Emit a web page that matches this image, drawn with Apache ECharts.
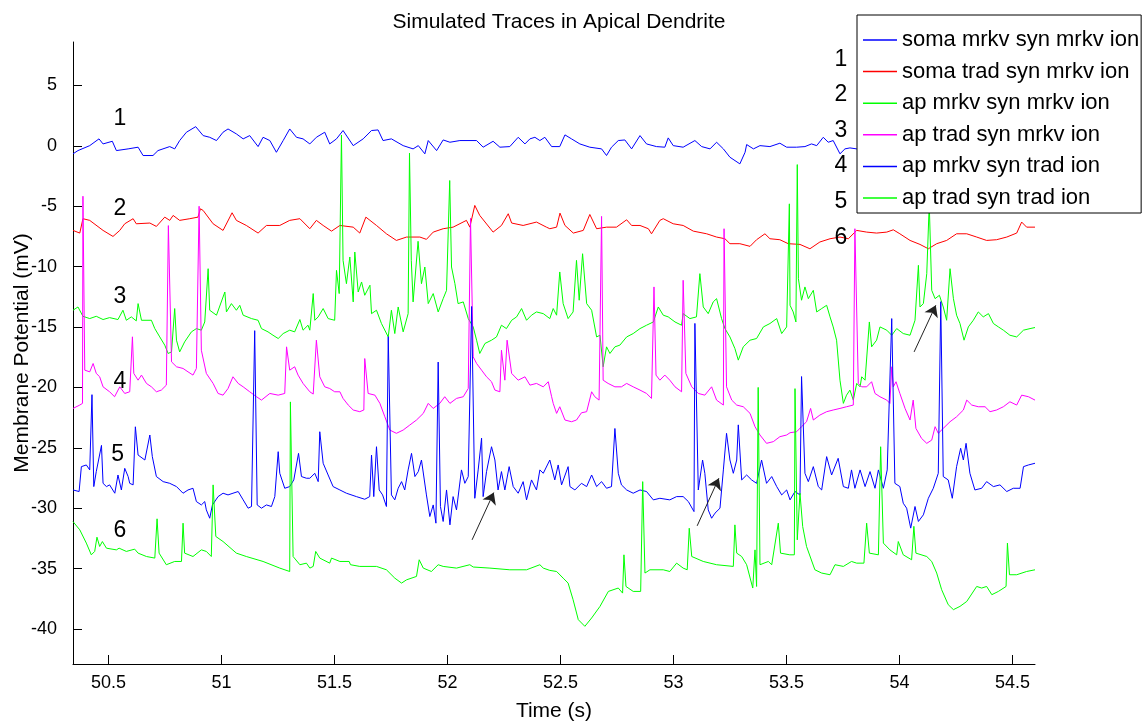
<!DOCTYPE html>
<html><head><meta charset="utf-8">
<script src="https://cdn.jsdelivr.net/npm/echarts@6/dist/echarts.min.js"></script>
<style>html,body{margin:0;padding:0;background:#fff}#c{width:1148px;height:725px}</style>
</head><body><div id="c"></div>
<script>
const seriesNames = ['soma mrkv syn mrkv ion','soma trad syn mrkv ion','ap mrkv syn mrkv ion','ap trad syn mrkv ion','ap mrkv syn trad ion','ap trad syn trad ion'];
const seriesColors = ['#0000ff','#ff0000','#00ff00','#ff00ff','#0000ff','#00ff00'];

const somaMrkvSynMrkvIon = [[50.343,-0.66],[50.365,-0.39],[50.417,0.02],[50.458,0.58],[50.476,0.16],[50.517,0.38],[50.535,-0.39],[50.587,-0.25],[50.631,-0.11],[50.653,-0.80],[50.697,-0.80],[50.719,-0.39],[50.771,-0.06],[50.793,-0.25],[50.815,0.44],[50.845,1.13],[50.886,1.59],[50.919,0.85],[50.948,0.71],[50.978,0.44],[51.007,1.13],[51.029,1.40],[51.066,0.99],[51.096,0.58],[51.125,0.85],[51.162,-0.06],[51.184,0.71],[51.214,0.44],[51.243,-0.53],[51.273,0.44],[51.302,1.40],[51.332,0.71],[51.361,0.58],[51.391,0.16],[51.420,0.71],[51.457,1.13],[51.479,0.16],[51.509,0.58],[51.538,1.27],[51.583,0.02],[51.627,0.58],[51.664,1.27],[51.693,1.32],[51.715,0.44],[51.752,0.58],[51.804,0.02],[51.848,-0.25],[51.871,0.02],[51.900,-0.66],[51.915,0.44],[51.952,-0.39],[51.981,0.49],[52.011,0.30],[52.055,0.44],[52.129,0.44],[52.158,-0.11],[52.202,0.38],[52.232,-0.11],[52.276,-0.06],[52.313,0.71],[52.343,0.16],[52.365,0.58],[52.387,0.71],[52.409,0.44],[52.431,0.71],[52.461,-0.06],[52.497,-0.06],[52.520,0.91],[52.549,0.58],[52.586,0.16],[52.630,-0.11],[52.682,-0.25],[52.704,-0.80],[52.726,-0.11],[52.756,0.44],[52.785,0.49],[52.815,-0.25],[52.852,0.85],[52.881,0.16],[52.925,-0.06],[52.962,-0.11],[52.977,0.66],[52.999,0.02],[53.043,-0.11],[53.095,0.44],[53.125,-0.06],[53.162,-0.25],[53.191,0.30],[53.221,-0.25],[53.250,-0.94],[53.294,-1.49],[53.317,-0.53],[53.324,0.11],[53.354,-0.25],[53.383,0.02],[53.427,-0.06],[53.471,0.22],[53.501,-0.11],[53.545,-0.11],[53.582,-0.06],[53.611,0.16],[53.634,0.02],[53.663,0.71],[53.685,0.30],[53.707,0.44],[53.737,-0.66],[53.759,-0.25],[53.781,-0.17],[53.811,-0.25],[53.840,-0.10]];

const somaTradSynMrkvIon = [[50.343,-7.00],[50.373,-7.22],[50.387,-6.03],[50.417,-6.17],[50.476,-7.00],[50.520,-7.50],[50.550,-7.00],[50.572,-6.45],[50.609,-6.03],[50.623,-6.45],[50.683,-6.39],[50.712,-6.67],[50.749,-5.90],[50.771,-6.17],[50.786,-5.76],[50.815,-6.17],[50.860,-6.03],[50.896,-5.90],[50.907,-5.21],[50.919,-5.35],[50.963,-6.45],[51.007,-7.00],[51.047,-5.54],[51.066,-6.17],[51.110,-6.59],[51.162,-7.22],[51.199,-6.59],[51.258,-6.59],[51.302,-6.17],[51.347,-6.03],[51.391,-6.86],[51.420,-6.17],[51.450,-6.59],[51.487,-7.06],[51.524,-6.59],[51.583,-6.73],[51.612,-7.22],[51.639,-5.90],[51.686,-6.59],[51.730,-7.28],[51.774,-7.83],[51.819,-7.55],[51.878,-7.55],[51.907,-7.74],[51.937,-7.14],[51.981,-6.86],[52.025,-6.73],[52.084,-6.17],[52.099,-6.73],[52.121,-4.93],[52.143,-5.76],[52.202,-7.14],[52.239,-6.59],[52.269,-5.62],[52.284,-6.39],[52.335,-6.59],[52.394,-6.31],[52.438,-6.73],[52.453,-6.86],[52.483,-6.73],[52.498,-5.57],[52.520,-6.59],[52.557,-7.22],[52.601,-7.00],[52.630,-5.68],[52.660,-6.86],[52.704,-6.73],[52.748,-6.73],[52.793,-6.12],[52.815,-6.59],[52.852,-6.59],[52.889,-6.86],[52.903,-7.28],[52.940,-6.17],[52.955,-6.03],[52.999,-6.45],[53.043,-6.59],[53.088,-7.06],[53.147,-7.28],[53.191,-7.55],[53.228,-7.69],[53.250,-8.10],[53.294,-8.10],[53.339,-8.32],[53.368,-7.77],[53.405,-7.28],[53.427,-7.69],[53.471,-7.77],[53.508,-8.10],[53.516,-7.96],[53.560,-8.16],[53.604,-8.52],[53.648,-7.96],[53.693,-7.69],[53.737,-7.55],[53.774,-7.69],[53.811,-7.00],[53.855,-7.14],[53.899,-7.22],[53.944,-7.14],[53.973,-6.95],[54.002,-7.28],[54.047,-7.83],[54.091,-8.16],[54.128,-8.52],[54.165,-8.10],[54.209,-7.83],[54.253,-7.28],[54.298,-7.28],[54.342,-7.55],[54.386,-7.83],[54.430,-7.77],[54.475,-7.55],[54.519,-7.22],[54.541,-6.31],[54.563,-6.73],[54.600,-6.73]];

const apMrkvSynMrkvIon = [[50.343,-13.61],[50.365,-13.34],[50.387,-14.11],[50.417,-14.30],[50.446,-14.11],[50.476,-14.38],[50.505,-14.22],[50.542,-14.38],[50.564,-13.61],[50.579,-14.44],[50.601,-14.16],[50.623,-14.49],[50.631,-13.06],[50.646,-14.44],[50.690,-14.44],[50.705,-15.13],[50.727,-15.82],[50.749,-16.50],[50.764,-17.19],[50.779,-17.06],[50.793,-13.47],[50.801,-16.09],[50.815,-17.06],[50.837,-16.23],[50.867,-15.40],[50.889,-15.13],[50.911,-15.26],[50.926,-14.58],[50.941,-10.17],[50.948,-13.61],[50.978,-14.02],[51.015,-12.10],[51.022,-13.75],[51.044,-13.06],[51.066,-13.61],[51.081,-13.20],[51.096,-14.02],[51.133,-14.30],[51.162,-14.44],[51.177,-15.13],[51.206,-15.40],[51.228,-15.68],[51.251,-15.95],[51.273,-15.54],[51.302,-15.26],[51.324,-15.40],[51.347,-14.38],[51.361,-15.26],[51.383,-14.85],[51.391,-15.26],[51.406,-12.23],[51.413,-14.44],[51.428,-14.16],[51.450,-13.47],[51.472,-14.30],[51.501,-14.44],[51.509,-10.31],[51.521,-12.23],[51.531,0.90],[51.538,-9.48],[51.553,-11.41],[51.568,-9.20],[51.583,-12.92],[51.590,-8.79],[51.605,-12.10],[51.620,-11.27],[51.634,-12.37],[51.657,-11.54],[51.664,-13.89],[51.686,-13.61],[51.708,-14.71],[51.738,-15.82],[51.752,-13.61],[51.767,-15.54],[51.782,-13.34],[51.804,-15.40],[51.826,-13.89],[51.832,-0.60],[51.840,-9.48],[51.848,-12.92],[51.870,-7.90],[51.885,-11.41],[51.900,-10.03],[51.915,-13.06],[51.937,-12.23],[51.959,-13.75],[51.981,-12.65],[51.996,-11.96],[52.010,-2.87],[52.018,-10.03],[52.033,-11.41],[52.047,-13.06],[52.070,-12.92],[52.092,-14.30],[52.114,-14.99],[52.129,-16.09],[52.143,-17.19],[52.166,-16.36],[52.195,-16.09],[52.217,-15.82],[52.239,-14.85],[52.261,-15.13],[52.284,-14.44],[52.306,-14.16],[52.328,-13.47],[52.350,-14.44],[52.372,-14.02],[52.394,-13.75],[52.424,-13.89],[52.453,-14.30],[52.468,-13.47],[52.483,-14.02],[52.497,-10.44],[52.512,-13.06],[52.534,-14.30],[52.556,-13.75],[52.571,-9.48],[52.583,-12.78],[52.598,-8.93],[52.616,-13.06],[52.638,-13.61],[52.660,-15.82],[52.675,-15.68],[52.689,-18.29],[52.704,-16.64],[52.719,-17.19],[52.741,-16.64],[52.763,-16.50],[52.793,-15.82],[52.822,-15.54],[52.852,-15.13],[52.881,-14.85],[52.911,-14.58],[52.933,-13.34],[52.955,-14.02],[52.977,-14.16],[53.007,-14.58],[53.036,-14.85],[53.043,-13.89],[53.073,-14.30],[53.102,-14.16],[53.117,-10.58],[53.132,-13.34],[53.154,-13.89],[53.176,-12.92],[53.191,-12.65],[53.213,-14.30],[53.228,-15.13],[53.250,-15.82],[53.272,-16.78],[53.287,-17.74],[53.309,-16.64],[53.339,-16.09],[53.368,-15.95],[53.398,-14.99],[53.427,-14.71],[53.457,-14.30],[53.479,-15.54],[53.501,-14.99],[53.513,-4.80],[53.516,-13.20],[53.530,-13.75],[53.542,-14.58],[53.548,-1.55],[53.553,-10.99],[53.567,-12.78],[53.582,-11.68],[53.597,-12.65],[53.619,-11.96],[53.634,-13.75],[53.656,-13.47],[53.678,-13.20],[53.693,-14.16],[53.707,-14.99],[53.722,-16.09],[53.737,-19.40],[53.752,-21.32],[53.766,-20.64],[53.781,-20.22],[53.796,-21.05],[53.811,-19.67],[53.826,-19.95],[53.833,-19.12],[53.848,-19.40],[53.867,-14.58],[53.877,-16.64],[53.899,-16.09],[53.914,-14.99],[53.944,-15.26],[53.966,-15.68],[53.988,-15.13],[54.017,-15.54],[54.047,-15.68],[54.069,-14.44],[54.084,-9.89],[54.091,-13.34],[54.106,-13.06],[54.121,-10.58],[54.132,-4.80],[54.143,-11.96],[54.158,-12.65],[54.177,-12.37],[54.194,-13.34],[54.209,-14.44],[54.224,-10.17],[54.239,-12.65],[54.253,-14.02],[54.268,-14.71],[54.286,-16.09],[54.305,-14.99],[54.327,-14.44],[54.349,-13.75],[54.371,-14.16],[54.394,-13.89],[54.416,-14.71],[54.438,-14.99],[54.460,-15.26],[54.489,-15.68],[54.519,-15.82],[54.549,-15.26],[54.578,-15.13],[54.600,-15.04]];

const apTradSynMrkvIon = [[50.343,-21.74],[50.373,-21.46],[50.385,-21.32],[50.387,-4.17],[50.395,-18.57],[50.417,-18.71],[50.432,-18.02],[50.446,-18.84],[50.461,-19.12],[50.476,-19.95],[50.505,-20.36],[50.527,-20.77],[50.550,-19.95],[50.572,-20.50],[50.594,-20.36],[50.606,-15.81],[50.612,-18.84],[50.631,-19.40],[50.646,-18.98],[50.668,-19.67],[50.690,-19.95],[50.712,-20.36],[50.734,-20.22],[50.756,-19.81],[50.765,-6.60],[50.779,-17.88],[50.801,-18.29],[50.830,-18.43],[50.852,-18.71],[50.874,-18.98],[50.889,-18.43],[50.901,-5.00],[50.911,-16.92],[50.933,-18.84],[50.963,-19.67],[50.985,-20.50],[51.007,-20.64],[51.029,-20.09],[51.051,-19.12],[51.074,-19.67],[51.096,-19.95],[51.125,-20.36],[51.155,-20.77],[51.177,-21.05],[51.214,-20.50],[51.251,-20.64],[51.280,-20.50],[51.288,-16.64],[51.302,-18.57],[51.324,-18.29],[51.339,-18.98],[51.361,-19.67],[51.391,-20.36],[51.406,-20.55],[51.420,-16.09],[51.435,-19.12],[51.457,-19.95],[51.479,-20.09],[51.501,-20.36],[51.524,-20.36],[51.538,-20.91],[51.561,-21.46],[51.583,-21.87],[51.612,-22.01],[51.630,-21.87],[51.634,-17.61],[51.649,-20.50],[51.679,-20.64],[51.701,-21.32],[51.723,-22.43],[51.745,-23.53],[51.774,-23.80],[51.804,-23.53],[51.833,-23.12],[51.863,-22.70],[51.893,-22.15],[51.915,-21.32],[51.937,-21.74],[51.966,-21.32],[51.988,-20.77],[52.011,-21.32],[52.040,-20.91],[52.070,-20.77],[52.092,-20.09],[52.102,-6.00],[52.114,-17.47],[52.129,-18.02],[52.151,-18.57],[52.173,-19.12],[52.195,-19.53],[52.210,-20.22],[52.232,-20.36],[52.239,-16.92],[52.254,-19.40],[52.264,-16.09],[52.284,-18.84],[52.313,-19.40],[52.343,-19.12],[52.365,-19.81],[52.394,-19.67],[52.424,-19.95],[52.446,-19.53],[52.461,-20.77],[52.468,-21.32],[52.483,-22.15],[52.497,-21.60],[52.520,-22.70],[52.549,-22.84],[52.571,-22.70],[52.593,-22.10],[52.616,-22.01],[52.638,-20.36],[52.652,-20.77],[52.671,-21.05],[52.682,-5.84],[52.689,-19.40],[52.711,-19.67],[52.741,-19.95],[52.770,-19.95],[52.793,-19.67],[52.822,-19.95],[52.852,-20.22],[52.881,-20.50],[52.903,-20.91],[52.914,-11.68],[52.923,-18.98],[52.940,-19.40],[52.962,-18.98],[52.984,-19.40],[53.007,-19.95],[53.036,-20.36],[53.043,-11.13],[53.055,-18.84],[53.081,-19.95],[53.110,-20.50],[53.139,-20.64],[53.169,-19.95],[53.191,-21.05],[53.221,-21.46],[53.224,-6.86],[53.235,-19.95],[53.258,-21.05],[53.280,-21.46],[53.309,-21.60],[53.339,-22.15],[53.361,-23.25],[53.383,-23.94],[53.412,-24.63],[53.442,-24.49],[53.471,-24.08],[53.501,-23.94],[53.516,-23.75],[53.545,-23.67],[53.567,-23.25],[53.589,-22.84],[53.607,-21.74],[53.619,-22.70],[53.648,-22.29],[53.678,-22.01],[53.707,-21.87],[53.737,-21.74],[53.766,-21.60],[53.796,-21.46],[53.803,-6.86],[53.818,-19.67],[53.833,-19.95],[53.855,-19.95],[53.877,-19.53],[53.892,-20.50],[53.914,-20.77],[53.944,-21.05],[53.958,-21.32],[53.966,-18.29],[53.973,-19.95],[53.985,-19.53],[54.002,-20.50],[54.025,-21.74],[54.047,-22.70],[54.061,-21.05],[54.073,-23.39],[54.098,-24.22],[54.121,-24.63],[54.143,-24.36],[54.158,-23.25],[54.172,-23.80],[54.194,-23.39],[54.224,-22.84],[54.253,-22.43],[54.283,-21.87],[54.298,-21.05],[54.320,-21.46],[54.349,-21.60],[54.379,-21.60],[54.401,-22.01],[54.430,-21.87],[54.460,-21.60],[54.489,-21.19],[54.519,-21.46],[54.541,-20.64],[54.571,-20.77],[54.600,-21.05]];

const apMrkvSynTradIon = [[50.343,-28.49],[50.370,-28.62],[50.380,-26.56],[50.402,-26.42],[50.417,-26.83],[50.427,-20.60],[50.435,-28.21],[50.446,-26.97],[50.469,-24.80],[50.476,-27.94],[50.491,-28.21],[50.505,-28.07],[50.528,-28.76],[50.542,-27.25],[50.557,-28.49],[50.572,-26.70],[50.587,-27.38],[50.594,-27.94],[50.609,-28.07],[50.619,-23.26],[50.631,-25.60],[50.661,-26.01],[50.683,-23.94],[50.694,-25.73],[50.712,-27.38],[50.742,-27.80],[50.771,-27.94],[50.801,-28.21],[50.830,-28.76],[50.852,-28.49],[50.874,-28.35],[50.889,-29.45],[50.911,-29.73],[50.926,-29.45],[50.933,-30.14],[50.948,-30.83],[50.960,-29.73],[50.985,-29.04],[51.007,-28.76],[51.029,-28.90],[51.051,-28.76],[51.074,-28.62],[51.096,-29.31],[51.118,-30.00],[51.133,-29.86],[51.147,-15.30],[51.158,-29.73],[51.177,-30.00],[51.199,-29.73],[51.221,-29.86],[51.236,-29.04],[51.251,-25.32],[51.258,-27.11],[51.280,-28.35],[51.302,-28.21],[51.320,-27.66],[51.341,-25.46],[51.354,-27.38],[51.376,-27.52],[51.391,-27.52],[51.413,-27.11],[51.428,-27.80],[51.435,-23.67],[51.450,-26.28],[51.472,-27.25],[51.494,-28.21],[51.524,-28.49],[51.553,-28.76],[51.597,-29.04],[51.634,-29.26],[51.656,-29.04],[51.664,-25.60],[51.674,-29.04],[51.686,-24.91],[51.698,-28.49],[51.713,-28.90],[51.730,-29.86],[51.738,-15.80],[51.752,-28.90],[51.767,-29.31],[51.782,-28.35],[51.797,-27.80],[51.811,-28.49],[51.826,-26.83],[51.841,-25.46],[51.856,-27.38],[51.871,-26.97],[51.885,-26.01],[51.907,-28.90],[51.922,-30.69],[51.937,-29.73],[51.949,-31.24],[51.959,-17.90],[51.969,-29.86],[51.981,-31.10],[51.996,-28.49],[52.011,-31.38],[52.025,-29.04],[52.040,-30.14],[52.062,-26.83],[52.077,-27.94],[52.092,-27.38],[52.107,-13.30],[52.121,-29.18],[52.136,-26.83],[52.151,-24.20],[52.158,-29.04],[52.173,-26.97],[52.195,-24.91],[52.210,-26.01],[52.224,-28.49],[52.239,-26.97],[52.254,-28.49],[52.273,-26.56],[52.291,-28.21],[52.313,-28.76],[52.335,-27.80],[52.350,-29.31],[52.372,-27.66],[52.394,-28.49],[52.409,-26.83],[52.424,-27.11],[52.453,-26.01],[52.475,-27.66],[52.490,-26.42],[52.505,-28.07],[52.534,-26.56],[52.542,-28.21],[52.564,-28.49],[52.593,-27.94],[52.616,-28.21],[52.638,-27.25],[52.660,-28.21],[52.682,-27.80],[52.704,-28.35],[52.726,-28.21],[52.741,-23.40],[52.756,-27.11],[52.770,-28.07],[52.793,-28.49],[52.822,-28.76],[52.852,-28.49],[52.881,-28.62],[52.911,-29.31],[52.940,-29.18],[52.984,-29.31],[53.014,-29.04],[53.043,-29.04],[53.066,-29.45],[53.091,-30.28],[53.095,-14.70],[53.110,-28.49],[53.129,-26.01],[53.139,-27.11],[53.154,-30.14],[53.169,-30.83],[53.184,-30.41],[53.206,-30.00],[53.221,-26.83],[53.235,-23.80],[53.250,-26.01],[53.265,-27.11],[53.280,-26.01],[53.287,-23.10],[53.302,-27.66],[53.324,-27.25],[53.346,-27.66],[53.368,-27.94],[53.390,-26.01],[53.412,-27.94],[53.435,-27.38],[53.457,-28.21],[53.479,-28.90],[53.501,-28.49],[53.516,-29.31],[53.538,-28.62],[53.560,-28.90],[53.567,-19.10],[53.582,-27.11],[53.597,-27.80],[53.619,-26.56],[53.641,-28.21],[53.656,-28.49],[53.678,-25.73],[53.700,-27.25],[53.729,-25.87],[53.752,-28.21],[53.774,-28.35],[53.788,-26.83],[53.803,-28.35],[53.826,-26.83],[53.848,-28.21],[53.870,-26.97],[53.892,-28.35],[53.907,-26.83],[53.929,-28.35],[53.946,-26.83],[53.966,-14.30],[53.980,-27.94],[54.002,-28.21],[54.017,-29.59],[54.032,-30.00],[54.050,-31.65],[54.069,-29.86],[54.084,-31.10],[54.106,-30.55],[54.128,-29.18],[54.150,-28.35],[54.172,-27.11],[54.183,-12.90],[54.194,-27.38],[54.216,-27.66],[54.234,-29.18],[54.253,-26.56],[54.271,-25.04],[54.283,-26.01],[54.295,-24.63],[54.312,-27.11],[54.334,-28.49],[54.364,-28.35],[54.386,-27.80],[54.416,-28.21],[54.445,-28.07],[54.475,-28.62],[54.504,-28.35],[54.534,-28.35],[54.549,-26.56],[54.571,-26.42],[54.600,-26.28]];

const apTradSynTradIon = [[50.343,-31.11],[50.373,-31.79],[50.402,-32.89],[50.424,-33.86],[50.439,-33.58],[50.449,-32.40],[50.461,-33.17],[50.473,-32.76],[50.491,-33.31],[50.535,-33.45],[50.547,-33.31],[50.579,-33.58],[50.616,-33.39],[50.631,-33.72],[50.668,-34.00],[50.705,-34.13],[50.715,-30.88],[50.724,-33.72],[50.756,-34.68],[50.793,-34.41],[50.823,-34.41],[50.830,-31.24],[50.837,-33.72],[50.874,-34.00],[50.911,-33.45],[50.933,-33.58],[50.955,-34.00],[50.963,-28.07],[50.975,-32.34],[51.007,-32.76],[51.066,-33.72],[51.110,-34.00],[51.184,-34.41],[51.258,-34.96],[51.302,-35.24],[51.305,-21.20],[51.317,-34.00],[51.347,-34.68],[51.376,-34.55],[51.391,-34.96],[51.406,-34.82],[51.417,-33.58],[51.435,-34.13],[51.479,-34.55],[51.487,-34.13],[51.524,-34.41],[51.565,-34.41],[51.571,-34.68],[51.612,-34.82],[51.686,-34.82],[51.730,-35.10],[51.767,-35.79],[51.797,-36.20],[51.819,-35.93],[51.863,-35.65],[51.875,-34.27],[51.893,-34.96],[51.929,-35.24],[51.959,-34.68],[51.981,-34.82],[52.040,-34.96],[52.099,-34.68],[52.114,-34.87],[52.188,-34.96],[52.276,-35.10],[52.350,-35.10],[52.409,-34.68],[52.424,-34.96],[52.453,-35.15],[52.483,-35.24],[52.512,-35.79],[52.534,-36.20],[52.556,-37.58],[52.579,-39.23],[52.608,-39.78],[52.638,-39.09],[52.675,-38.13],[52.712,-36.89],[52.756,-36.61],[52.775,-37.03],[52.781,-33.86],[52.790,-36.48],[52.822,-36.89],[52.855,-36.89],[52.864,-27.80],[52.874,-35.37],[52.896,-35.10],[52.955,-35.10],[52.984,-35.24],[53.014,-34.55],[53.043,-34.96],[53.061,-35.10],[53.070,-31.66],[53.081,-34.00],[53.132,-34.41],[53.191,-34.68],[53.265,-34.82],[53.272,-31.38],[53.280,-33.72],[53.302,-34.00],[53.324,-34.68],[53.351,-36.61],[53.361,-33.45],[53.368,-36.48],[53.375,-20.00],[53.383,-34.68],[53.420,-34.41],[53.435,-34.68],[53.464,-31.24],[53.474,-33.72],[53.515,-33.86],[53.535,-33.86],[53.538,-20.10],[53.548,-32.62],[53.560,-28.76],[53.572,-31.52],[53.589,-33.17],[53.626,-35.10],[53.656,-35.37],[53.693,-35.51],[53.715,-34.68],[53.752,-34.82],[53.788,-34.41],[53.811,-34.55],[53.843,-34.55],[53.855,-31.24],[53.867,-33.72],[53.907,-33.86],[53.917,-24.91],[53.929,-32.89],[53.958,-33.45],[53.988,-33.86],[53.995,-32.76],[54.017,-33.86],[54.054,-34.27],[54.064,-31.50],[54.073,-33.72],[54.121,-34.00],[54.143,-34.41],[54.165,-35.37],[54.187,-36.75],[54.216,-37.99],[54.239,-38.40],[54.268,-38.13],[54.298,-37.72],[54.342,-36.48],[54.364,-36.61],[54.386,-36.48],[54.409,-37.16],[54.438,-36.89],[54.472,-36.48],[54.478,-32.89],[54.487,-35.51],[54.519,-35.51],[54.563,-35.24],[54.600,-35.10]];

const xTicks = [50.5, 51, 51.5, 52, 52.5, 53, 53.5, 54, 54.5];
const yTicks = [-40, -35, -30, -25, -20, -15, -10, -5, 0, 5];
const traceLabels = [[50.550,2.26,'1'],[50.550,-5.18,'2'],[50.550,-12.45,'3'],[50.550,-19.56,'4'],[50.541,-25.60,'5'],[50.550,-31.88,'6'],
  [53.741,7.13,'1'],[53.741,4.24,'2'],[53.741,1.29,'3'],[53.741,-1.60,'4'],[53.741,-4.59,'5'],[53.741,-7.57,'6']];
const arrows = [[[52.109,-32.62],[52.205,-28.71]],[[53.105,-31.46],[53.201,-27.52]],[[54.065,-17.06],[54.161,-13.20]]];

const FONT = '"Liberation Sans", Arial, Helvetica, sans-serif';
const traces = [somaMrkvSynMrkvIon, somaTradSynMrkvIon, apMrkvSynMrkvIon, apTradSynMrkvIon, apMrkvSynTradIon, apTradSynTradIon];

const chart = echarts.init(document.getElementById('c'), null, {renderer: 'canvas'});
const series = traces.map((d, i) => ({
  type: 'line', name: seriesNames[i], data: d, showSymbol: false, symbol: 'none',
  lineStyle: {width: 1, color: seriesColors[i]}, itemStyle: {color: seriesColors[i]},
  emphasis: {disabled: true}, silent: true, animation: false, z: 2
}));
series.push({
  type: 'scatter', name: 'labels', data: traceLabels, symbolSize: 0.01,
  itemStyle: {color: '#000', opacity: 1}, silent: true, animation: false, z: 5,
  label: {show: true, position: [0, 0], align: 'center', verticalAlign: 'middle',
    formatter: p => p.value[2], fontSize: 23, color: '#000', opacity: 1,
    textBorderWidth: 0, fontFamily: FONT},
  markLine: {
    silent: true, animation: false, symbol: ['none', 'arrow'], symbolSize: 11,
    lineStyle: {color: '#222', width: 1, type: 'solid'}, label: {show: false},
    data: arrows.map(a => [{coord: a[0]}, {coord: a[1]}])
  }
});

chart.setOption({
  animation: false,
  backgroundColor: '#fff',
  title: {text: 'Simulated Traces in Apical Dendrite', left: 554, top: 7, textAlign: 'center',
    textStyle: {fontSize: 21, fontWeight: 'normal', color: '#000', fontFamily: FONT}},
  grid: {left: 73, right: 113, top: 42, bottom: 61, containLabel: false, outerBoundsMode: 'none'},
  legend: {
    data: seriesNames, orient: 'vertical', left: 857, top: 15, icon: 'rect',
    itemWidth: 34, itemHeight: 1.5, itemGap: 9.6,
    backgroundColor: '#fff', borderColor: '#000', borderWidth: 1, borderRadius: 0,
    padding: [14, 2, 4, 6], selectedMode: false,
    textStyle: {fontSize: 22, lineHeight: 22, color: '#000', fontFamily: FONT}
  },
  xAxis: {
    type: 'value', min: 50.343, max: 54.6,
    name: 'Time (s)', nameLocation: 'middle', nameGap: 37, nameMoveOverlap: false,
    nameTextStyle: {fontSize: 21, color: '#000', fontFamily: FONT},
    splitLine: {show: false},
    axisLine: {onZero: false, lineStyle: {color: '#000', width: 1}},
    axisTick: {inside: true, length: 9, customValues: xTicks, lineStyle: {color: '#000'}},
    axisLabel: {customValues: xTicks, color: '#000', fontSize: 18, margin: 10, fontFamily: FONT}
  },
  yAxis: {
    type: 'value', min: -42.9, max: 8.6,
    name: 'Membrane Potential (mV)', nameLocation: 'middle', nameGap: 40, nameRotate: 90, nameMoveOverlap: false,
    nameTextStyle: {fontSize: 21, color: '#000', fontFamily: FONT},
    splitLine: {show: false},
    axisLine: {onZero: false, lineStyle: {color: '#000', width: 1}},
    axisTick: {inside: true, length: 9, customValues: yTicks, lineStyle: {color: '#000'}},
    axisLabel: {customValues: yTicks, color: '#000', fontSize: 18, margin: 16, fontFamily: FONT}
  },
  series: series
});
</script></body></html>
